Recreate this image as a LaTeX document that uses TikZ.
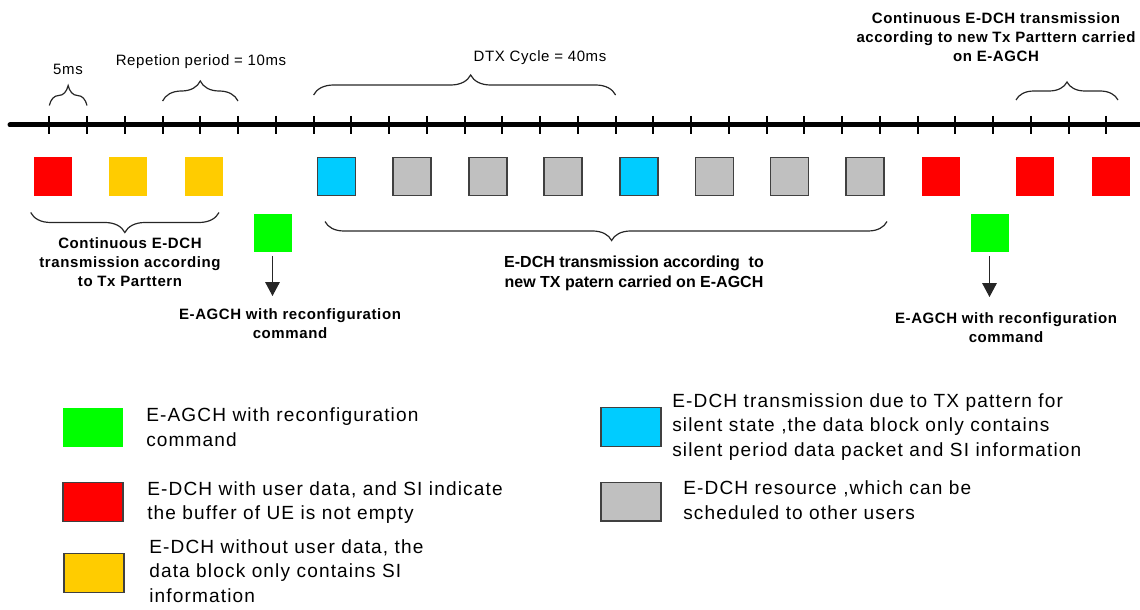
\documentclass[tikz,border=0pt]{standalone}
\usepackage{fontspec}
\setmainfont{Liberation Sans}
\newfontfamily\legendfont[LetterSpace=6]{Liberation Sans}
\newfontfamily\notefont[LetterSpace=4]{Liberation Sans}
\usetikzlibrary{arrows.meta,decorations.pathreplacing}

\definecolor{edchred}{HTML}{FF0000}
\definecolor{siyellow}{HTML}{FFCC00}
\definecolor{silentcyan}{HTML}{00CCFF}
\definecolor{freegray}{HTML}{C0C0C0}
\definecolor{agchgreen}{HTML}{00FF00}
\definecolor{framegray}{HTML}{404040}

\begin{document}
\begin{tikzpicture}[x=0.75pt,y=-0.75pt]
\useasboundingbox (0,0) rectangle (1140,610);
\tikzset{block/.style = {shape=rectangle,inner sep=0pt,minimum width=28.5pt,minimum height=28.5pt}}
\tikzset{framed/.style = {block,draw=framegray,line width=1.1pt}}
\tikzset{keybox/.style = {shape=rectangle,inner sep=0pt,minimum width=45pt,minimum height=29pt}}
\tikzset{brc/.style = {decorate,decoration={brace,amplitude=15pt},draw=black!85,line width=0.9pt}}
\tikzset{edge/.style = {-{Triangle[width=11pt,length=10.5pt]},draw=black!85,line width=0.8pt,shorten <=3pt}}
\tikzset{toplabel/.style = {inner sep=0pt,font=\notefont\fontsize{11.25}{13}\selectfont}}
\tikzset{note/.style = {inner sep=0pt,align=center,font=\notefont\bfseries\fontsize{11.25}{14.25}\selectfont}}
\tikzset{keytext/.style = {inner sep=0pt,anchor=north west,align=left,font=\legendfont\fontsize{14.3}{18.4}\selectfont}}

% time axis
\draw[line width=3.75pt,line cap=round] (10,125) -- (1140,125);
\foreach \i in {0,...,28} \draw[line width=1.5pt] ({49.3+37.75*\i},116) -- ++(0,18);

% braces above the axis
\draw[brc] (49.3,105.5) -- (87,105.5);
\draw[brc] (162.6,101) -- (238,101);
\draw[brc,decoration={aspect=0.52}] (313.6,95) -- (615.6,95);
\draw[brc,decoration={amplitude=13.5pt}] (1016,100) -- (1118,100);
\node[toplabel] (l5) at (68,69) {5ms};
\node[toplabel] (lrep) at (201,62) {Repetion period = 10ms};
\node[toplabel] (ldtx) at (540,58) {DTX Cycle = 40ms};
\node[note] (nright) at (996,37.5) {Continuous E-DCH transmission\\according to new Tx Parttern carried\\on E-AGCH};

% blocks on the axis
\node[block,fill=edchred] (b1) at (52.5,176.5) {};
\node[block,fill=siyellow] (b2) at (128,176.5) {};
\node[block,fill=siyellow] (b3) at (204,176.5) {};
\node[framed,fill=silentcyan] (b4) at (336.5,176.5) {};
\node[framed,fill=freegray] (b5) at (412,176.5) {};
\node[framed,fill=freegray] (b6) at (488,176.5) {};
\node[framed,fill=freegray] (b7) at (563,176.5) {};
\node[framed,fill=silentcyan] (b8) at (639,176.5) {};
\node[framed,fill=freegray] (b9) at (714.5,176.5) {};
\node[framed,fill=freegray] (b10) at (789.5,176.5) {};
\node[framed,fill=freegray] (b11) at (865,176.5) {};
\node[block,fill=edchred] (b12) at (941,176.5) {};
\node[block,fill=edchred] (b13) at (1035,176.5) {};
\node[block,fill=edchred] (b14) at (1110.5,176.5) {};
\node[block,fill=agchgreen] (g1) at (272.5,232.5) {};
\node[block,fill=agchgreen] (g2) at (989.5,232.5) {};

% braces below the blocks
\draw[brc,decoration={aspect=0.5}] (219,212.5) -- (30.7,212.5);
\draw[brc,decoration={amplitude=14.25pt,aspect=0.49}] (887,221.5) -- (325,221.5);
\node[note] (nleft) at (130,262) {Continuous E-DCH\\transmission according\\to Tx Parttern};
\node[note,font=\bfseries\fontsize{12}{15}\selectfont] (nmid) at (634,273) {E-DCH transmission according\ \ to\\new TX patern carried on E-AGCH};

%edges
\coordinate (a1) at (272.5,296);
\coordinate (a2) at (989.5,297);
\draw[edge] (g1) -- (a1);
\draw[edge] (g2) -- (a2);
\node[note] (c1) at (290,324) {E-AGCH with reconfiguration\\command};
\node[note] (c2) at (1006,328) {E-AGCH with reconfiguration\\command};

% legend
\node[keybox,fill=agchgreen] (k1) at (93,427.5) {};
\node[keybox,fill=edchred,draw=framegray,line width=1pt] (k2) at (93,502) {};
\node[keybox,fill=siyellow,draw=framegray,line width=1pt] (k3) at (94,573) {};
\node[keybox,fill=silentcyan,draw=framegray,line width=1pt] (k4) at (631,427) {};
\node[keybox,fill=freegray,draw=framegray,line width=1pt] (k5) at (631,501.5) {};
\node[keytext] (k1t) at (146,407.5) {E-AGCH with reconfiguration\\command};
\node[keytext] (k2t) at (147,481) {E-DCH with user data, and SI indicate\\the buffer of UE is not empty};
\node[keytext] (k3t) at (149,539) {E-DCH without user data, the\\data block only contains SI\\information};
\node[keytext] (k4t) at (672,393) {E-DCH transmission due to TX pattern for\\silent state ,the data block only contains\\silent period data packet and SI information};
\node[keytext] (k5t) at (683,480.5) {E-DCH resource ,which can be\\scheduled to other users};

\end{tikzpicture}
\end{document}
